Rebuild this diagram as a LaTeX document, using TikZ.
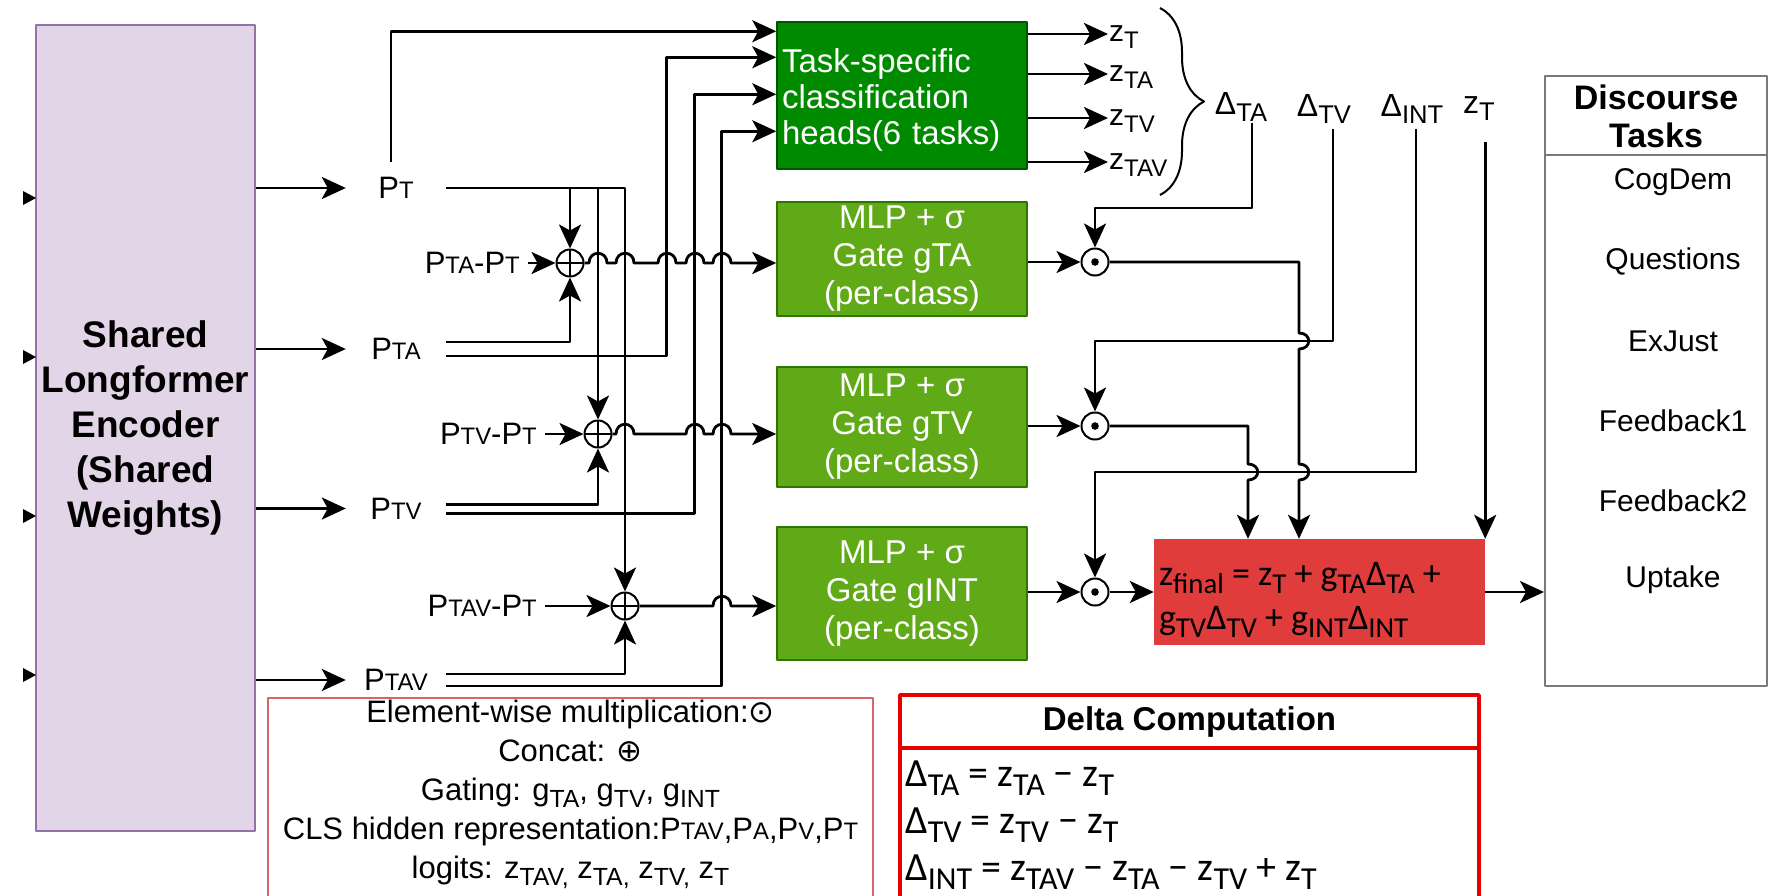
\documentclass[tikz,border=0pt]{standalone}
\usepackage{fontspec}
\usepackage{graphicx}
\setmainfont{Liberation Sans}
\newfontfamily\calfont{Carlito}
\newfontfamily\symfont{DejaVu Sans}
\usetikzlibrary{arrows.meta,positioning,calc,decorations.pathreplacing}

\definecolor{encfill}{HTML}{E1D5E7}
\definecolor{encedge}{HTML}{9673A6}
\definecolor{headfill}{HTML}{008A00}
\definecolor{headedge}{HTML}{005700}
\definecolor{gatefill}{HTML}{60A917}
\definecolor{gateedge}{HTML}{2D7600}
\definecolor{finfill}{HTML}{E03C3C}
\definecolor{legedge}{HTML}{D96666}
\definecolor{deltaedge}{HTML}{E60000}
\definecolor{taskedge}{HTML}{7A7A7A}

% P with small capital modality letters, e.g. P_TA
\newcommand{\prep}[1]{P\scalebox{0.77}{#1}}
\newcommand{\lo}[1]{\raisebox{-0.22em}{\scalebox{0.8}{#1}}}
\newcommand{\fsz}[2]{\fontsize{#1}{#2}\selectfont}

\tikzset{
  wire/.style={line width=2.8pt},
  flow/.style={wire,-{Stealth[length=24pt,width=22pt,inset=6pt]}},
  plabel/.style={minimum width=100,minimum height=52,inner sep=0,font=\fsz{31}{37}},
  diflabel/.style={anchor=east,inner sep=0,inner xsep=8,font=\fsz{31}{37}},
  sumnode/.style={circle,draw,line width=2pt,minimum size=27,inner sep=0,
    path picture={\draw[line width=2pt] (path picture bounding box.north) -- (path picture bounding box.south)
      (path picture bounding box.west) -- (path picture bounding box.east);}},
  prodnode/.style={circle,draw,line width=2pt,minimum size=27,inner sep=0,
    path picture={\fill (path picture bounding box.center) circle[radius=3.8pt];}},
  gatebox/.style={draw=gateedge,fill=gatefill,line width=1.5pt,minimum width=250,inner sep=0,
    text=white,align=center,font=\fsz{33}{38}},
  zlabel/.style={anchor=west,inner sep=1,font=\fsz{30}{36}},
  dlabel/.style={inner sep=1,font=\fsz{32}{38}},
  taskitem/.style={font=\fsz{30}{36}},
}

\begin{document}
\begin{tikzpicture}[x=1pt,y=-1pt,line join=round]
  % Artwork frame of the reference.
  \useasboundingbox (0,0) rectangle (1774,895);

  % Encoder and its four CLS outputs.
  \node[draw=encedge,fill=encfill,line width=1.5pt,minimum width=219,minimum height=806,inner sep=2,
    align=center,font=\bfseries\fsz{37}{45}] (enc) at (145.5,428)
    {Shared\\Longformer\\Encoder\\(Shared\\Weights)};
  \foreach \y in {198,357,516,675} {
    \fill (23,\y-7) -- (36,\y) -- (23,\y+7) -- cycle;
  }

  \node[plabel] (pT) at (396,188) {\prep{T}};
  \node[plabel] (pTA) at (396,349) {\prep{TA}};
  \node[plabel] (pTV) at (396,508.5) {\prep{TV}};
  \node[plabel] (pTAV) at (396,680) {\prep{TAV}};
  \foreach \p in {pT,pTA,pTV,pTAV} {
    \draw[flow] (enc.east |- \p) -- (\p);
  }

  % Concat nodes and their difference inputs.
  \node[sumnode] (sTA) at (570,263) {};
  \node[sumnode] (sTV) at (598,434) {};
  \node[sumnode] (sTAV) at (625,606) {};
  \node[diflabel] (dfTA) at (528,263) {\prep{TA}-\prep{T}};
  \node[diflabel] (dfTV) at (545,434) {\prep{TV}-\prep{T}};
  \node[diflabel] (dfTAV) at (545,606) {\prep{TAV}-\prep{T}};
  \draw[flow] (dfTA) -- (sTA);
  \draw[flow] (dfTV) -- (sTV);
  \draw[flow] (dfTAV) -- (sTAV);

  % Classification heads and gates.
  \node[draw=headedge,fill=headfill,line width=1.5pt,minimum height=147,text width=240,inner xsep=5,
    inner ysep=0,text=white,align=left,font=\fsz{33}{36}] (head) at (902,95.5)
    {\rule{0pt}{32pt}Task-specific\\classification\\heads(6 tasks)};
  \node[gatebox,minimum height=114] (gTA) at (902,259) {MLP + σ\\Gate gTA\\(per-class)};
  \node[gatebox,minimum height=120] (gTV) at (902,427) {MLP + σ\\Gate gTV\\(per-class)};
  \node[gatebox,minimum height=133] (gINT) at (902,593.5) {MLP + σ\\Gate gINT\\(per-class)};

  \coordinate (hin1) at ($(head.north west)+(0,10)$);
  \coordinate (hin2) at ($(head.north west)+(0,36)$);
  \coordinate (hin3) at ($(head.north west)+(0,73)$);
  \coordinate (hin4) at ($(head.north west)+(0,110)$);

  % P_T feeds the head and all three concats.
  \draw[flow] ([xshift=-5pt]pT.north) |- (hin1);
  \draw[flow] (pT.east) -| (sTA.north);
  \draw[flow] (pT.east) -| (sTV.north);
  \draw[flow] (pT.east) -| (sTAV.north);

  % Paired lines: upper one into the concat, lower one into the head.
  \draw[flow] ($(pTA.east)+(0,-7)$) -| (sTA.south);
  \draw[flow] ($(pTA.east)+(0,7)$) -| ($(hin2)+(-110,0)$) -- (hin2);
  \draw[flow] ($(pTV.east)+(0,-4)$) -| (sTV.south);
  \draw[flow] ($(pTV.east)+(0,5)$) -| ($(hin3)+(-82,0)$) -- (hin3);
  \draw[flow] ($(pTAV.east)+(0,-6)$) -| (sTAV.south);
  \draw[flow] ($(pTAV.east)+(0,6)$) -| ($(hin4)+(-55,0)$) -- (hin4);

  % Concat outputs hop over the vertical buses.
  \draw[flow] (sTA.east) \foreach \c in {598,625,667,695,722}
    {-- (\c-9,263) .. controls (\c-9,250) and (\c+9,250) .. (\c+9,263)} -- (gTA.west |- sTA.east);
  \draw[flow] (sTV.east) \foreach \c in {625,695,722}
    {-- (\c-9,434) .. controls (\c-9,421) and (\c+9,421) .. (\c+9,434)} -- (gTV.west |- sTV.east);
  \draw[flow] (sTAV.east) \foreach \c in {722}
    {-- (\c-9,606) .. controls (\c-9,593) and (\c+9,593) .. (\c+9,606)} -- (gINT.west |- sTAV.east);

  % Head logits.
  \foreach \y/\s in {34/T,74/TA,118/TV,162/TAV} {
    \node[zlabel] (z\s) at (1108,\y+3) {z\lo{\s}};
    \draw[flow] (head.east |- 0,\y) -- (z\s.west |- 0,\y);
  }
  \draw[line width=2pt,decorate,decoration={brace,amplitude=44pt}] (1160,8) -- (1160,195);

  \node[dlabel] (dlTA) at (1241,107) {Δ\lo{TA}};
  \node[dlabel] (dlTV) at (1324,109) {Δ\lo{TV}};
  \node[dlabel] (dlINT) at (1412,109) {Δ\lo{INT}};
  \node[dlabel] (zlT) at (1479,109) {z\lo{T}};

  % Element-wise gating.
  \node[prodnode] (mTA) at (1095,262) {};
  \node[prodnode] (mTV) at (1095,426) {};
  \node[prodnode] (mINT) at (1095,592) {};
  \draw[flow] (gTA.east |- mTA) -- (mTA);
  \draw[flow] (gTV.east |- mTV) -- (mTV);
  \draw[flow] (gINT.east |- mINT) -- (mINT);

  \draw[flow] ([xshift=11pt]dlTA.south) |- (1095,208) -- (mTA.north);
  \draw[flow] ([xshift=9pt,yshift=-4pt]dlTV.south) |- (1095,341) -- (mTV.north);
  \draw[flow] ([xshift=4pt,yshift=-4pt]dlINT.south) |- (1095,472) -- (mINT.north);

  \node[fill=finfill,minimum width=331,minimum height=106,inner sep=0] (fin) at (1319.5,592) {};
  \node[anchor=west,align=left,inner sep=0,font=\calfont\fsz{36}{44}] (fintext) at ([xshift=5pt,yshift=-8pt]fin.west)
    {z\lo{final} = z\lo{T} + g\lo{TA}Δ\lo{TA} +\\g\lo{TV}Δ\lo{TV} + g\lo{INT}Δ\lo{INT}};

  \coordinate (jTA) at (1299,262);
  \coordinate (jTV) at (1248,426);
  \draw[flow] (mTA.east) -- (jTA) \foreach \c in {341,472}
    {-- (1299,\c-8) .. controls (1312,\c-8) and (1312,\c+8) .. (1299,\c+8)} -- (jTA |- fin.north);
  \draw[flow] (mTV.east) -- (jTV) \foreach \c in {472}
    {-- (1248,\c-8) .. controls (1261,\c-8) and (1261,\c+8) .. (1248,\c+8)} -- (jTV |- fin.north);
  \draw[flow] ($(fin.north east |- zlT.south)+(0,20)$) -- (fin.north east);
  \draw[flow] (mINT) -- (fin);

  % Discourse task list.
  \node[draw=taskedge,line width=2pt,minimum width=222,minimum height=610,inner sep=0] (tasks) at (1656,381) {};
  \draw[taskedge,line width=2pt] (1545,155) -- (1767,155);
  \node[align=center,font=\bfseries\fsz{34}{38}] (taskhead) at (1656,116) {Discourse\\Tasks};
  \foreach \t [count=\i] in {CogDem,Questions,ExJust,Feedback1,Feedback2,Uptake} {
    \node[taskitem] (item\i) at (1673,{182+79.6*(\i-1)}) {\t};
  }
  \draw[flow] (fin.east) -- (tasks.west |- fin.east);

  % Legend and delta boxes run off the bottom edge.
  \draw[legedge,line width=1.5pt] (268,698) rectangle (873,910);
  \node[align=center,font=\fsz{31}{39}] (legend) at (570.5,794)
    {Element-wise multiplication:{\symfont ⊙}\\Concat: {\symfont ⊕}\\Gating: g\lo{TA}, g\lo{TV}, g\lo{INT}\\
     CLS hidden representation:\prep{TAV},\prep{A},\prep{V},\prep{T}\\logits: z\lo{TAV,} z\lo{TA,} z\lo{TV,} z\lo{T}};

  \draw[deltaedge,line width=3.5pt] (900,695) rectangle (1479,910);
  \draw[deltaedge,line width=3.5pt] (900,748) -- (1479,748);
  \node[font=\bfseries\fsz{33}{38}] (deltahead) at (1189.5,722) {Delta Computation};
  \node[anchor=west,align=left,inner sep=0,font=\calfont\fsz{40}{47}] (deltas) at (905,825)
    {Δ\lo{TA} = z\lo{TA} − z\lo{T}\\Δ\lo{TV} = z\lo{TV} − z\lo{T}\\Δ\lo{INT} = z\lo{TAV} − z\lo{TA} − z\lo{TV} + z\lo{T}};
\end{tikzpicture}
\end{document}
